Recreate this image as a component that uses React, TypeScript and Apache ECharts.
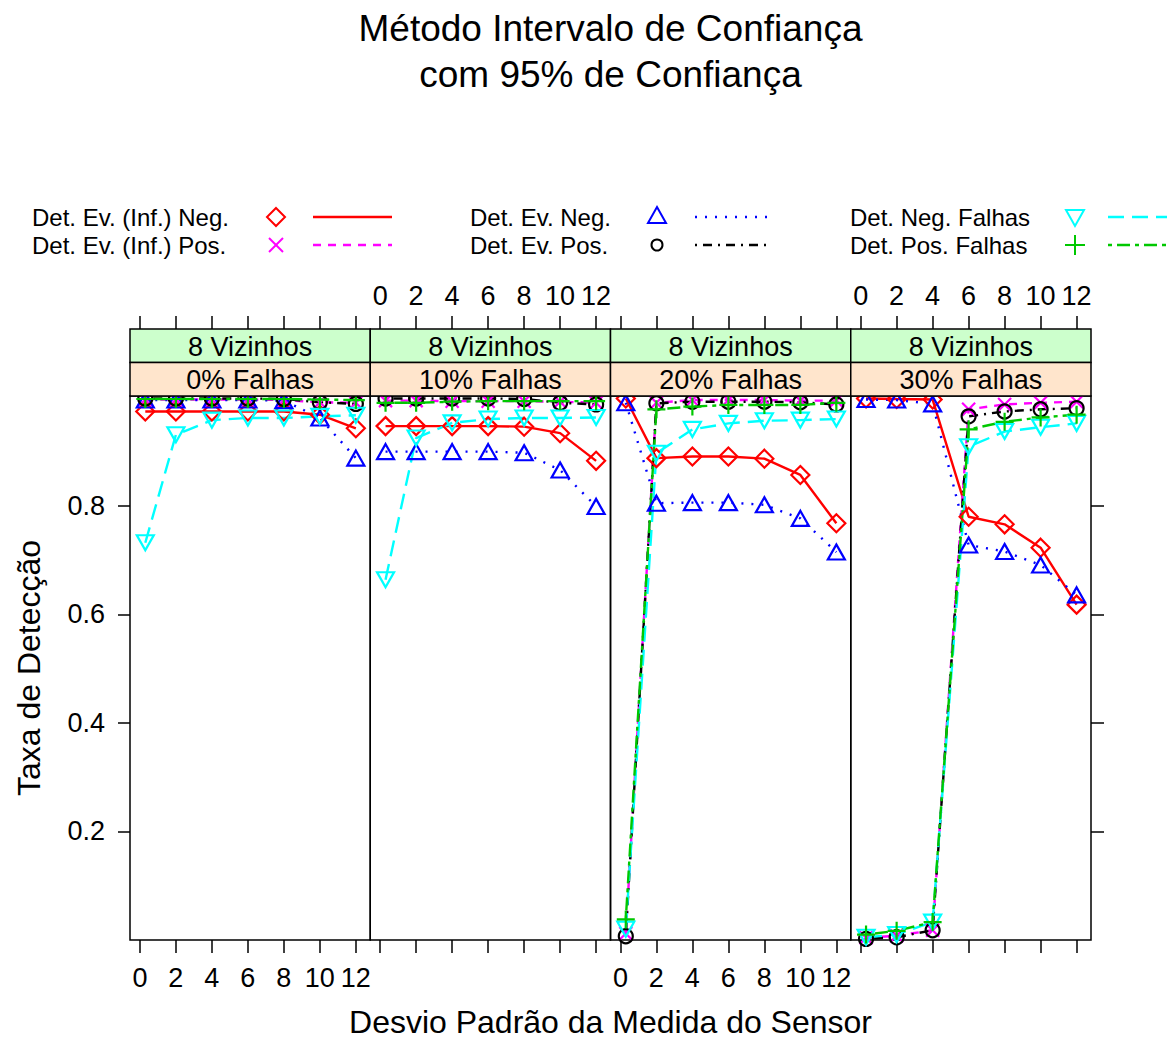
import React, { useEffect, useRef } from "react";
import * as echarts from "echarts";

// ---------- data ----------
const XS = [0.3, 2, 4, 6, 8, 10, 12];
const X_TICKS = [0, 2, 4, 6, 8, 10, 12];
const Y_TICKS = [0.2, 0.4, 0.6, 0.8];
const FAULT_LABELS = ["0% Falhas", "10% Falhas", "20% Falhas", "30% Falhas"];
const NEIGH_LABEL = "8 Vizinhos";

// one row per panel (0%, 10%, 20%, 30% Falhas)
const INF_NEG = [
  [0.974, 0.974, 0.974, 0.974, 0.974, 0.968, 0.943],
  [0.947, 0.947, 0.947, 0.947, 0.946, 0.934, 0.883],
  [0.998, 0.888, 0.891, 0.891, 0.887, 0.857, 0.768],
  [0.998, 0.997, 0.996, 0.78, 0.766, 0.723, 0.618],
];
const INF_POS = [
  [0.996, 0.996, 0.996, 0.996, 0.995, 0.991, 0.99],
  [0.994, 0.994, 0.993, 0.993, 0.993, 0.992, 0.99],
  [0.012, 0.99, 0.995, 0.995, 0.995, 0.994, 0.994],
  [0.004, 0.008, 0.018, 0.978, 0.987, 0.99, 0.992],
];
const EV_NEG = [
  [0.995, 0.995, 0.995, 0.995, 0.994, 0.962, 0.888],
  [0.9, 0.9, 0.9, 0.9, 0.898, 0.866, 0.799],
  [0.99, 0.805, 0.806, 0.806, 0.802, 0.777, 0.715],
  [0.996, 0.995, 0.988, 0.728, 0.716, 0.691, 0.636],
];
const EV_POS = [
  [0.998, 0.998, 0.998, 0.998, 0.997, 0.991, 0.988],
  [0.998, 0.998, 0.998, 0.998, 0.997, 0.99, 0.987],
  [0.007, 0.989, 0.992, 0.992, 0.992, 0.991, 0.987],
  [0.002, 0.005, 0.018, 0.965, 0.974, 0.978, 0.98],
];
const NEG_FALHAS = [
  [0.732, 0.931, 0.958, 0.962, 0.962, 0.965, 0.967],
  [0.664, 0.925, 0.953, 0.96, 0.962, 0.962, 0.963],
  [0.02, 0.897, 0.941, 0.952, 0.957, 0.958, 0.96],
  [0.005, 0.01, 0.033, 0.909, 0.937, 0.945, 0.952],
];
const POS_FALHAS = [
  [0.997, 0.997, 0.997, 0.997, 0.997, 0.996, 0.995],
  [0.99, 0.99, 0.992, 0.993, 0.993, 0.993, 0.993],
  [0.038, 0.978, 0.983, 0.986, 0.986, 0.986, 0.99],
  [0.01, 0.017, 0.033, 0.941, 0.955, 0.963, 0.968],
];

// ---------- styles ----------
const FONT = '"Liberation Sans", Arial, Helvetica, sans-serif';
const GREEN = "#00c800";
const GROUPS = [
  { name: "Det. Ev. (Inf.) Neg.", data: INF_NEG, color: "#ff0000", marker: "diamond", dash: "solid" as any },
  { name: "Det. Ev. (Inf.) Pos.", data: INF_POS, color: "#ff00ff", marker: "cross", dash: [8, 7] },
  { name: "Det. Ev. Neg.", data: EV_NEG, color: "#0000ff", marker: "triangle", dash: [2, 8] },
  { name: "Det. Ev. Pos.", data: EV_POS, color: "#000000", marker: "circle", dash: [2, 6, 9, 6] },
  { name: "Det. Neg. Falhas", data: NEG_FALHAS, color: "#00ffff", marker: "down", dash: [16, 8] },
  { name: "Det. Pos. Falhas", data: POS_FALHAS, color: GREEN, marker: "plus", dash: [4, 5, 13, 5] },
];

const SYMBOLS: Record<string, { symbol: string; size: any }> = {
  diamond: { symbol: "diamond", size: [18, 18] },
  cross: { symbol: "path://M0,0L10,10M10,0L0,10", size: [13, 13] },
  triangle: { symbol: "path://M5,0L10,9L0,9Z", size: [17, 15] },
  circle: { symbol: "circle", size: 14 },
  down: { symbol: "path://M0,0L10,0L5,9Z", size: [17, 15] },
  plus: { symbol: "path://M5,0L5,10M0,5L10,5", size: [18, 18] },
};

// layout
const P_LEFT = 130;
const P_W = 240.25;
const P_TOP = 396;
const P_H = 544;
const STRIP_H = 33.5;
const CX = P_LEFT + (P_W * 4) / 2;

function legendMarker(kind: string, cx: number, cy: number, color: string) {
  const st = { fill: "none", stroke: color, lineWidth: 2 };
  switch (kind) {
    case "diamond":
      return { type: "polygon", shape: { points: [[cx, cy - 9], [cx + 9, cy], [cx, cy + 9], [cx - 9, cy]] }, style: st };
    case "cross":
      return {
        type: "group",
        children: [
          { type: "line", shape: { x1: cx - 7, y1: cy - 7, x2: cx + 7, y2: cy + 7 }, style: st },
          { type: "line", shape: { x1: cx + 7, y1: cy - 7, x2: cx - 7, y2: cy + 7 }, style: st },
        ],
      };
    case "triangle":
      return { type: "polygon", shape: { points: [[cx, cy - 10], [cx + 9, cy + 6], [cx - 9, cy + 6]] }, style: st };
    case "circle":
      return { type: "circle", shape: { cx, cy, r: 5.5 }, style: st };
    case "down":
      return { type: "polygon", shape: { points: [[cx - 9, cy - 7], [cx + 9, cy - 7], [cx, cy + 9]] }, style: st };
    default:
      return {
        type: "group",
        children: [
          { type: "line", shape: { x1: cx, y1: cy - 10, x2: cx, y2: cy + 10 }, style: st },
          { type: "line", shape: { x1: cx - 10, y1: cy, x2: cx + 10, y2: cy }, style: st },
        ],
      };
  }
}

function buildOption() {
  const grids: any[] = [];
  const xAxes: any[] = [];
  const yAxes: any[] = [];
  const series: any[] = [];
  const graphics: any[] = [];
  const tickStyle = { color: "#000", width: 1.5 };
  const labelStyle = { color: "#000", fontSize: 27, fontFamily: FONT };
  const noLine = { show: false, onZero: false };

  for (let i = 0; i < 4; i++) {
    grids.push({
      left: P_LEFT + i * P_W,
      top: P_TOP,
      width: P_W,
      height: P_H,
      show: true,
      borderColor: "#000",
      borderWidth: 1.5,
      backgroundColor: "transparent",
    });
  }
  // bottom x axes 0..3
  for (let i = 0; i < 4; i++) {
    xAxes.push({
      type: "value",
      gridIndex: i,
      position: "bottom",
      min: -0.55,
      max: 12.8,
      axisLine: noLine,
      splitLine: { show: false },
      axisTick: { show: true, length: 13, lineStyle: tickStyle, customValues: X_TICKS },
      axisLabel: { show: i % 2 === 0, margin: 24, customValues: X_TICKS, ...labelStyle },
    });
  }
  // top x axes 4..7
  for (let i = 0; i < 4; i++) {
    xAxes.push({
      type: "value",
      gridIndex: i,
      position: "top",
      offset: STRIP_H * 2,
      min: -0.55,
      max: 12.8,
      axisLine: noLine,
      splitLine: { show: false },
      axisTick: { show: true, length: 13, lineStyle: tickStyle, customValues: X_TICKS },
      axisLabel: { show: i % 2 === 1, margin: 20, customValues: X_TICKS, ...labelStyle },
    });
  }
  // left y axes 0..3
  for (let i = 0; i < 4; i++) {
    yAxes.push({
      type: "value",
      gridIndex: i,
      position: "left",
      min: 0,
      max: 1.0025,
      axisLine: noLine,
      splitLine: { show: false },
      axisTick: { show: i === 0, length: 12, lineStyle: tickStyle, customValues: Y_TICKS },
      axisLabel: {
        show: i === 0,
        margin: 25,
        customValues: Y_TICKS,
        formatter: (v: number) => v.toFixed(1),
        ...labelStyle,
      },
    });
  }
  // right y axis for last panel (4)
  yAxes.push({
    type: "value",
    gridIndex: 3,
    position: "right",
    min: 0,
    max: 1.0025,
    axisLine: noLine,
    splitLine: { show: false },
    axisTick: { show: true, length: 13, lineStyle: tickStyle, customValues: Y_TICKS },
    axisLabel: { show: false },
  });

  for (let i = 0; i < 4; i++) {
    GROUPS.forEach((g) => {
      const sym = SYMBOLS[g.marker];
      series.push({
        type: "line",
        name: g.name,
        xAxisIndex: i,
        yAxisIndex: i,
        data: XS.map((x, k) => [x, g.data[i][k]]),
        symbol: sym.symbol,
        symbolSize: sym.size,
        showAllSymbol: true,
        clip: false,
        silent: true,
        itemStyle: { color: "rgba(0,0,0,0)", borderColor: g.color, borderWidth: 2.2 },
        lineStyle: { color: g.color, width: 2.4, type: g.dash },
        emphasis: { disabled: true },
      });
    });
  }

  // strips
  for (let i = 0; i < 4; i++) {
    const x = P_LEFT + i * P_W;
    graphics.push({
      type: "rect",
      z: 50,
      shape: { x, y: P_TOP - 2 * STRIP_H, width: P_W, height: STRIP_H },
      style: { fill: "#ccffcc", stroke: "#000", lineWidth: 1.5 },
    });
    graphics.push({
      type: "rect",
      z: 50,
      shape: { x, y: P_TOP - STRIP_H, width: P_W, height: STRIP_H },
      style: { fill: "#ffe5cc", stroke: "#000", lineWidth: 1.5 },
    });
    graphics.push({
      type: "text",
      z: 51,
      x: x + P_W / 2,
      y: P_TOP - 1.5 * STRIP_H + 1,
      style: { text: NEIGH_LABEL, fontSize: 27, lineHeight: 28, fontFamily: FONT, fill: "#000", align: "center", verticalAlign: "middle" },
    });
    graphics.push({
      type: "text",
      z: 51,
      x: x + P_W / 2,
      y: P_TOP - 0.5 * STRIP_H + 1,
      style: { text: FAULT_LABELS[i], fontSize: 27, lineHeight: 28, fontFamily: FONT, fill: "#000", align: "center", verticalAlign: "middle" },
    });
  }

  // title
  graphics.push({
    type: "text",
    x: CX,
    y: 28,
    style: { text: "Método Intervalo de Confiança", fontSize: 37, fontFamily: FONT, fill: "#000", align: "center", verticalAlign: "middle" },
  });
  graphics.push({
    type: "text",
    x: CX,
    y: 74,
    style: { text: "com 95% de Confiança", fontSize: 37, fontFamily: FONT, fill: "#000", align: "center", verticalAlign: "middle" },
  });
  // axis titles
  graphics.push({
    type: "text",
    x: CX,
    y: 1022,
    style: { text: "Desvio Padrão da Medida do Sensor", fontSize: 32, fontFamily: FONT, fill: "#000", align: "center", verticalAlign: "middle" },
  });
  graphics.push({
    type: "text",
    x: 29,
    y: 668,
    rotation: Math.PI / 2,
    style: { text: "Taxa de Detecção", fontSize: 32, fontFamily: FONT, fill: "#000", align: "center", verticalAlign: "middle" },
  });

  // legend
  const cols = [
    { tx: 32, mx: 276, l1: 313, l2: 392 },
    { tx: 470, mx: 657, l1: 695, l2: 772 },
    { tx: 850, mx: 1075, l1: 1108, l2: 1190 },
  ];
  const rows = [217, 245];
  GROUPS.forEach((g, idx) => {
    const c = cols[Math.floor(idx / 2)];
    const y = rows[idx % 2];
    graphics.push({
      type: "text",
      x: c.tx,
      y: y,
      style: { text: g.name, fontSize: 24, fontFamily: FONT, fill: "#000", align: "left", verticalAlign: "middle" },
    });
    graphics.push(legendMarker(g.marker, c.mx, y, g.color));
    graphics.push({
      type: "line",
      shape: { x1: c.l1, y1: y, x2: c.l2, y2: y },
      style: { stroke: g.color, lineWidth: 2.6, lineDash: g.dash === "solid" ? null : g.dash },
    });
  });

  return {
    animation: false,
    backgroundColor: "#ffffff",
    grid: grids,
    xAxis: xAxes,
    yAxis: yAxes,
    series,
    graphic: graphics,
  };
}

export default function App() {
  const ref = useRef<HTMLDivElement>(null);
  useEffect(() => {
    document.body.style.margin = "0";
    if (!ref.current) return;
    const chart = echarts.init(ref.current, null, { renderer: "svg" });
    chart.setOption(buildOption() as any);
    return () => chart.dispose();
  }, []);
  return <div ref={ref} style={{ width: 1167, height: 1041 }} />;
}
